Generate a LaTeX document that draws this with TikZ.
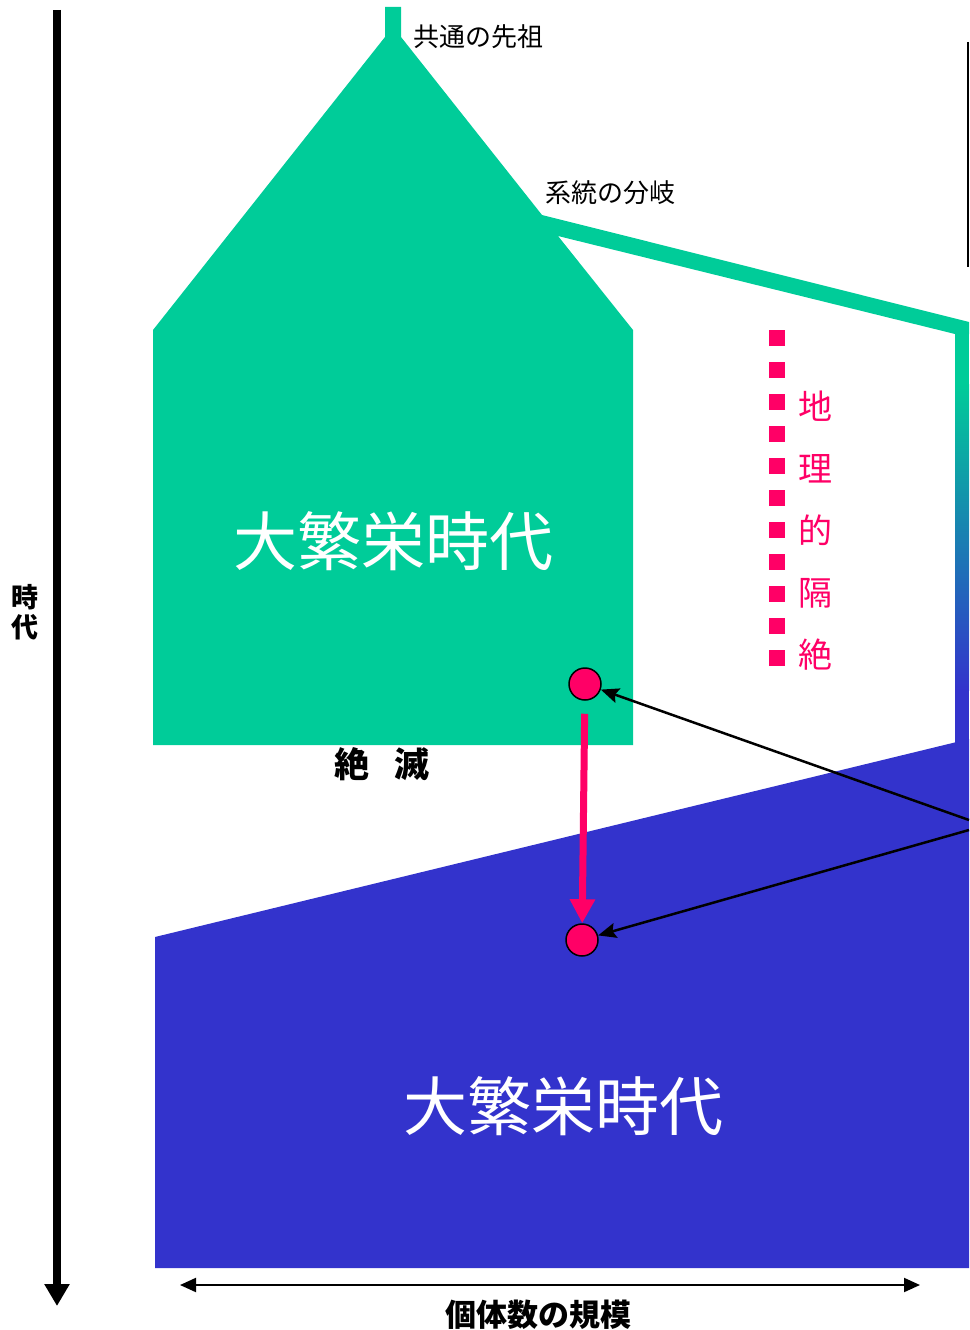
\documentclass[tikz,border=0pt]{standalone}
\usepackage{fontspec}
\newfontfamily\jp{Noto Sans CJK JP}
\usetikzlibrary{arrows.meta}
\definecolor{sgreen}{RGB}{0,204,153}
\definecolor{sblue}{RGB}{51,51,204}
\definecolor{spink}{RGB}{255,0,102}
\tikzset{
  bigtext/.style={font=\jp\fontsize{64}{64}\selectfont, text=white, inner sep=0},
  smalllabel/.style={font=\jp\fontsize{26}{26}\selectfont, text=black, inner sep=0, anchor=west},
  dotnode/.style={circle, fill=spink, draw=black, line width=1.5pt, minimum size=32pt, inner sep=0},
  linkarrow/.style={black, line width=2.5pt, -{Stealth[length=18pt,width=15pt,inset=3pt]}},
}
\begin{document}
\begin{tikzpicture}[x=1pt,y=-1pt]
\useasboundingbox (0,0) rectangle (969,1330);
% green lineage
\fill[sgreen] (385,7) -- (401,7) -- (401,37) -- (542,215) -- (969,322) -- (969,334) -- (955,334)
  -- (558,236) -- (633,330) -- (633,745) -- (153,745) -- (153,330) -- (385,37) -- cycle;
\fill[sgreen] (955,333) rectangle (969,385);
\shade[top color=sgreen, bottom color=sblue] (955,384) rectangle (969,690);
\fill[sblue] (955,689) rectangle (969,745);
% blue lineage
\fill[sblue] (155,937) -- (969,739) -- (969,1268) -- (155,1268) -- cycle;
% top right line
\coordinate (r0) at (968,42);
\coordinate (r1) at (968,267);
\draw[black, line width=2pt] (r0) -- (r1);
% texts
\node[bigtext] (gtext) at (393,541) {大繁栄時代};
\node[bigtext] (btext) at (563,1106) {大繁栄時代};
\node[smalllabel] (anc) at (413,37) {共通の先祖};
\node[smalllabel] (brn) at (545,193) {系統の分岐};
\node[font=\jp\bfseries\fontsize{35}{35}\selectfont, inner sep=0] (ext) at (382,764) {絶\hspace{26pt}滅};
\node[font=\jp\bfseries\fontsize{31}{31}\selectfont, inner sep=0] (scale) at (538,1315) {個体数の規模};
\node[font=\jp\fontsize{27}{30}\selectfont, inner sep=0, align=center] (era) at (25,612) {\textbf{時}\\\textbf{代}};
% geographic isolation
\coordinate (d0) at (777,330);
\coordinate (d1) at (777,666);
\draw[spink, line width=16pt, dash pattern=on 16pt off 16pt] (d0) -- (d1);
\node[font=\jp\fontsize{34}{62}\selectfont, text=spink, inner sep=0, align=center] (iso) at (815,531) {地\\理\\的\\隔\\絶};
% dots
\node[dotnode] (c1) at (585,684) {};
\node[dotnode] (c2) at (582,940) {};
\draw[spink, line width=7pt, -{Triangle[width=24pt,length=24pt]}, shorten <=13pt] (c1) -- (c2);
\coordinate (s1) at (969,820);
\coordinate (s2) at (969,830);
\draw[linkarrow] (s1) -- (c1);
\draw[linkarrow] (s2) -- (c2);
% axes
\coordinate (t0) at (57,10);
\coordinate (t1) at (57,1306);
\draw[black, line width=8pt, -{Triangle[width=24pt,length=22pt]}] (t0) -- (t1);
\coordinate (h0) at (180,1285);
\coordinate (h1) at (920,1285);
\draw[black, line width=2pt, {Triangle[width=14pt,length=16pt]}-{Triangle[width=14pt,length=16pt]}] (h0) -- (h1);
\end{tikzpicture}
\end{document}
